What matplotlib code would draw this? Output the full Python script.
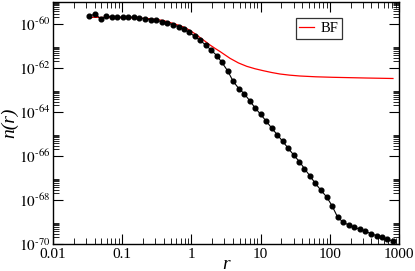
import numpy as np
import matplotlib
matplotlib.use("Agg")
import matplotlib.pyplot as plt
from matplotlib.ticker import LogLocator, FuncFormatter, NullFormatter

plt.rcParams['font.family'] = ['Liberation Serif', 'DejaVu Serif']
plt.rcParams['mathtext.fontset'] = 'stix'

# data: r values and log10 n(r)
r_data = [0.0335, 0.0408, 0.0494, 0.0589, 0.0705, 0.0841, 0.1016, 0.1225, 0.1466, 0.1766,
          0.2133, 0.2582, 0.3112, 0.3724, 0.4487, 0.5420, 0.6546, 0.7762, 0.9226, 1.117,
          1.330, 1.611, 1.919, 2.323, 2.767, 3.350, 3.990, 4.831, 5.808, 6.966,
          8.299, 10.02, 12.05, 14.45, 17.38, 20.84, 24.89, 30.06, 36.48, 43.05,
          51.76, 61.66, 74.64, 90.16, 107.6, 130.0, 156.7, 187.5, 225.9, 272.9,
          325.8, 393.6, 476.4, 567.5, 677.5, 810.8]
logn_data = [-59.636, -59.545, -59.786, -59.636, -59.682, -59.682, -59.695, -59.682, -59.695, -59.727,
             -59.759, -59.805, -59.832, -59.895, -59.955, -60.032, -60.123, -60.236, -60.377, -60.559,
             -60.741, -60.955, -61.182, -61.432, -61.750, -62.136, -62.591, -62.932, -63.173, -63.486,
             -63.809, -64.105, -64.418, -64.727, -65.032, -65.332, -65.636, -65.955, -66.259, -66.577,
             -66.909, -67.241, -67.559, -67.864, -68.259, -68.786, -69.014, -69.136, -69.241, -69.332,
             -69.423, -69.532, -69.623, -69.695, -69.786, -69.864]

# BF curve
logr_bf = [-1.480, -0.887, -0.598, -0.406, -0.237, -0.100, -0.020, 0.050, 0.124, 0.200, 0.269,
           0.340, 0.413, 0.490, 0.558, 0.680, 0.799, 0.920, 1.039, 1.160, 1.280, 1.420,
           1.569, 1.800, 2.046, 2.300, 2.523, 2.913]
logn_bf = [-59.695, -59.714, -59.759, -59.841, -60.000, -60.150, -60.295, -60.440, -60.614, -60.790,
           -60.955, -61.105, -61.250, -61.415, -61.560, -61.770, -61.923, -62.035, -62.123, -62.205,
           -62.273, -62.325, -62.364, -62.400, -62.423, -62.440, -62.455, -62.477]

fig = plt.figure(figsize=(4.15, 2.71), dpi=100)
ax = fig.add_axes([53/415, 27/271, 346/415, 242/271])

ax.plot(10**np.array(logr_bf), 10**np.array(logn_bf), color='#ff0000', lw=0.9, label='BF')
ax.plot(r_data, 10**np.array(logn_data), color='black', lw=0.8, marker='o', ms=3.4,
        mec='black', mfc='black')

ax.set_xscale('log')
ax.set_yscale('log')
ax.set_xlim(0.01, 1000)
ax.set_ylim(1e-70, 1e-59)

ax.xaxis.set_major_locator(LogLocator(base=10, numticks=20))
ax.xaxis.set_minor_locator(LogLocator(base=10, subs=np.arange(2, 10), numticks=50))
ax.xaxis.set_major_formatter(FuncFormatter(lambda v, p: '%g' % v))
ax.xaxis.set_minor_formatter(NullFormatter())

ax.yaxis.set_major_locator(LogLocator(base=100, numticks=20))
ax.yaxis.set_minor_locator(LogLocator(base=100, subs=np.arange(2, 10), numticks=50))
ax.yaxis.set_major_formatter(FuncFormatter(lambda v, p: r'$10^{\text{%d}}$' % round(np.log10(v))))
ax.yaxis.set_minor_formatter(NullFormatter())

ax.tick_params(which='both', direction='in', top=True, right=True, colors='black')
ax.tick_params(which='major', length=7, width=0.8, pad=3)
ax.tick_params(axis='x', which='major', labelsize=11)
ax.tick_params(axis='y', which='major', labelsize=11, pad=2)
ax.tick_params(which='minor', length=4, width=0.6)
for s in ax.spines.values():
    s.set_linewidth(1.0)

ax.set_xlabel('r', fontstyle='italic', fontsize=14)
ax.xaxis.set_label_coords(0.5, -0.05)
ax.set_ylabel('n(r)', fontstyle='italic', fontsize=14)
ax.yaxis.set_label_coords(-0.101, 0.5)

leg = ax.legend(loc='upper left', bbox_to_anchor=(295.7/415, 1 - 18.3/271),
                bbox_transform=fig.transFigure, fontsize=10.5, frameon=True, fancybox=False,
                edgecolor='#333333', framealpha=1, borderpad=0.25, handlelength=1.0,
                handletextpad=0.45, borderaxespad=0)
leg.get_frame().set_linewidth(0.9)

fig.savefig('out.png', dpi=100)
